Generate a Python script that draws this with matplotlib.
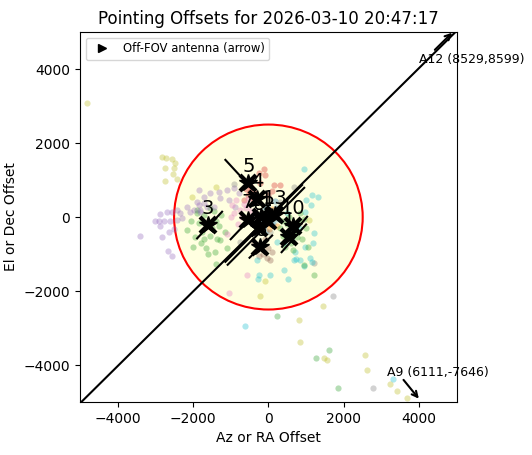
import numpy as np
import matplotlib.pyplot as plt
from matplotlib.patches import Circle
from matplotlib.lines import Line2D

title = 'Pointing Offsets for 2026-03-10 20:47:17'
fov_radius = 2500
lim = 5000

# per-antenna pointing samples (scatter clouds)
a1_x = [-170, -100, -50, 20, 80, 150, -250, -120, 60, 200, -30, 120, 250, -200, 180, -60]
a1_y = [110, 200, 40, -60, 150, 60, -100, -250, -200, 250, 300, -150, -50, 20, 420, -380]
a2_x = [-80, 40, 160, -150, 90, 10, 220]
a2_y = [-50, -180, 30, 120, 220, -320, -250]
a3_x = [-2150, -2050, -1950, -1900, -1800, -1750, -1700, -1650, -1550, -1500, -1450, -1400, -1350,
        -1300, -1250, -1850, -1600, -2000, -1700, -1406, -1096, -1273, -1900, -1550, -1388, -1150]
a3_y = [-350, -100, -550, 100, -700, -400, 50, -850, -500, -300, 150, -100, -600,
        -250, 50, -150, -1000, -800, -600, -940, -849, -623, 200, 250, -1274, -400]
a4_x = [-257, -124, -80, 141, 318, -212, -477, -600, -550, -450, -400, -350, -650, -300, -500, 0, 100]
a4_y = [1183, 1292, 1138, 867, 867, 912, 687, 750, 600, 800, 500, 650, 450, 400, 950, 600, 700]
a5_x = [-2865, -2687, -2555, -2423, -2334, -2997, -2910, -2777, -2600, -2423, -2290, -2865, -2643,
        -2511, -3395, -2821, -2670, -2555, -2157, -1981, -1848, -1715, -1627, -1804, -1848,
        -1891, -1716, -1538, -1317, -1096, -920, -788, -1273, -1053, -2069, -1804, -1450, -875]
a5_y = [81, 144, 144, 190, 99, -108, -108, -108, -108, -81, -36, -244, -397,
        -334, -515, -551, -922, -1057, 280, 190, 325, 370, 280, 144, 732,
        415, 550, 641, 686, 732, 777, 641, 506, 461, 145, 190, 280, 280]
a6_x = [-212, -35, 53, -300, -150, -400, 0, -250, -100, 100]
a6_y = [-759, -1120, -1165, -900, -1000, -650, -850, -1050, -600, -950]
a7_x = [-963, -850, -750, -650, -900, -700, -550, -1000, -800, -600, -566, -1052, -1100, -450]
a7_y = [325, 450, 200, 350, 100, 0, 500, 0, -200, 250, -1554, -2041, -450, 150]
a8_x = [672, 1715, 2767, -743, 1220, 300, -900, 50]
a8_y = [822, -2141, -4616, -668, -1256, 400, 900, -400]
a9_x = [-2820, -2706, -2555, -2484, -2732, -2493, -2529, -2732, -2423, 1440, 849, 1467, 1556,
        2573, 2617, 3218, 3413, 3678, -212, -97, 805, -4800, -2025, -1400, 1070]
a9_y = [1635, 1608, 1572, 1472, 1319, 1319, 1156, 976, 1021, -2412, -3379, -3803, -3875,
        -3740, -4146, -4508, -4715, -4887, -2141, -1734, -2773, 3090, 550, 800, -81]
a10_x = [937, 1158, 1309, 1008, 1131, 981, 1220, 1185, 981, 716, 742, 937, 1158, 230, 406,
         672, 849, 1114, 406, -300, -257, -628, -283, 35, 513, 3307, 500, 800, 600]
a10_y = [1292, 596, 533, 461, 325, 145, -425, -714, -822, -939, -1147, -1328, -1210, -668, -714,
         -1165, -1165, -1120, -1436, -1165, -1572, -2954, -1662, -1572, -1662, -4390, 100, -300, -600]
a13_x = [300, 400, 500, 600, 700, 800, 900, 1000, 450, 550, 650, 750, 850, 350, 1202, 1600,
         1273, 1839, 937, 230, 950, 1050]
a13_y = [-300, -500, -200, -700, -400, -100, -600, -300, -800, 0, -900, -550, 100, -100, -1572,
         -3586, -3803, -4616, -1301, -2683, -50, -800]

clouds = [(a1_x, a1_y, 'tab:blue'), (a2_x, a2_y, 'tab:orange'), (a3_x, a3_y, 'tab:green'),
          (a4_x, a4_y, 'tab:red'), (a5_x, a5_y, 'tab:purple'), (a6_x, a6_y, 'tab:brown'),
          (a7_x, a7_y, 'tab:pink'), (a8_x, a8_y, 'tab:gray'), (a9_x, a9_y, 'tab:olive'),
          (a10_x, a10_y, 'tab:cyan'), (a13_x, a13_y, 'tab:green')]

# median offsets of in-view antennas
ant_names = ['1', '2', '3', '4', '5', '6', '7', '8', '10', '11', '13']
ant_x = [540, 0, -1600, -290, -530, -210, -540, -260, 660, -200, 180]
ant_y = [-540, -100, -220, 500, 920, -810, -70, -300, -230, 0, 60]

# spread direction segments
seg_x0 = [-1890, -1140, -1000, 363, 350, -500, -1140, -1080]
seg_y0 = [-577, 1545, -600, -805, -950, -1100, -1211, -1290]
seg_x1 = [-1228, -477, -300, 1027, 1000, 100, 893, 950]
seg_y1 = [144, 813, 150, 8, -200, -500, 867, 790]

# antennas outside the plotted field
off_names = ['A12', 'A9']
off_x = [8529, 6111]
off_y = [8599, -7646]

fig = plt.figure(figsize=(5.32, 4.55), dpi=100)
ax = fig.add_axes([0.150, 0.1165, 0.709, 0.813])

ax.add_patch(Circle((0, 0), fov_radius, facecolor='lightyellow', edgecolor='red', lw=1.5, zorder=1))

for xs, ys, c in clouds:
    ax.scatter(xs, ys, s=20, color=c, alpha=0.35, zorder=2, linewidths=0)

ax.axline((0, 0), (off_x[0], off_y[0]), color='black', lw=1.5, zorder=3)
for x0, y0, x1, y1 in zip(seg_x0, seg_y0, seg_x1, seg_y1):
    ax.plot([x0, x1], [y0, y1], color='black', lw=1.5, zorder=3)

ax.plot(ant_x, ant_y, ls='none', marker='x', ms=11, mew=3, color='black', zorder=4)
ax.plot(ant_x, ant_y, ls='none', marker='*', ms=13, color='black', zorder=4)
for n, x, y in zip(ant_names, ant_x, ant_y):
    ax.text(x, y + 450, n, fontsize=14, ha='center', va='center', zorder=5)

for name, x, y in zip(off_names, off_x, off_y):
    d = np.hypot(x, y)
    ux, uy = x / d, y / d
    s = lim / max(abs(ux), abs(uy))
    hx, hy = ux * s, uy * s
    # nudge sideways so the arrow does not sit on the diagonal
    px, py = -uy * 50, ux * 50
    tx, ty = hx - 800 * ux, hy - 800 * uy
    ax.annotate('', xy=(hx + px, hy + py), xytext=(tx + px, ty + py), annotation_clip=False,
                arrowprops=dict(arrowstyle='->', lw=1.5, color='black'), zorder=6)
    ax.text(tx + 1000, ty + (-180 if y > 0 else 170),
            f'{name} ({x},{y})', fontsize=9, ha='center', va='center', zorder=6)

ax.set_xlim(-lim, lim)
ax.set_ylim(-lim, lim)
ax.set_title(title)
ax.set_xlabel('Az or RA Offset')
ax.set_ylabel('El or Dec Offset')

h = Line2D([], [], ls='none', marker='>', color='black', label='Off-FOV antenna (arrow)')
ax.legend(handles=[h], loc='upper left', fontsize='small')

fig.savefig('out.png')
